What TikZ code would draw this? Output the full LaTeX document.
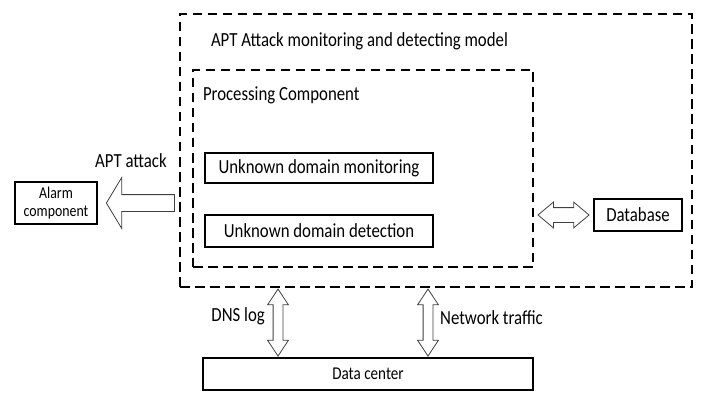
\documentclass[tikz,border=0pt]{standalone}
\usepackage{fontspec}
\setmainfont{Carlito}[FakeStretch=0.84]
\usepackage{tikz}
\usetikzlibrary{positioning, calc, shapes.arrows}

\begin{document}
\begin{tikzpicture}[x=1pt, y=-1pt, font=\fontsize{20}{24}\selectfont,
  every node/.style={inner sep=0pt},
  dashbox/.style={draw, line width=2.4pt, dash pattern=on 9.5pt off 5.5pt},
  solidbox/.style={draw, line width=2.2pt},
  hollow/.style={draw=black!75, line width=0.8pt, fill=white},
  leftarrow/.style={hollow, single arrow, shape border rotate=180, inner sep=8pt, single arrow head extend=17pt, single arrow tip angle=118, minimum height=68pt},
  hdouble/.style={hollow, double arrow, inner sep=7pt, double arrow head extend=5.5pt, double arrow tip angle=80, minimum height=51pt},
  vdouble/.style={hollow, double arrow, shape border rotate=90, inner sep=4.5pt, double arrow head extend=5.5pt, double arrow tip angle=67, minimum height=67pt}]
\useasboundingbox (0,0) rectangle (701,393);
\node[dashbox, minimum width=512pt, minimum height=273pt] (model) at (436,150.5) {};
\node[dashbox, minimum width=340pt, minimum height=197pt] (proc) at (363,168.5) {};
\node[anchor=west] (modeltitle) at ($(model.north west)+(32,28)$) {APT Attack monitoring and detecting model};
\node[anchor=west] (proctitle) at ($(proc.north west)+(11,27)$) {Processing Component};
\node[solidbox, minimum width=228pt, minimum height=30pt] (monitor) at (319,168) {Unknown domain monitoring};
\node[solidbox, minimum width=228pt, minimum height=32pt] (detect) at (319,231) {Unknown domain detection};
\node[solidbox, minimum width=88pt, minimum height=32pt] (db) at (638,215) {Database};
\node[solidbox, minimum width=82pt, minimum height=42pt, align=center, font=\fontsize{16.5}{18}\selectfont] (alarm) at (56,203) {Alarm\\component};
\node[solidbox, minimum width=330pt, minimum height=32pt, font=\fontsize{18}{20}\selectfont] (dc) at (368,374) {Data center};
\node[leftarrow, anchor=tail] (attack) at ($(model.west |- alarm.east)+(-4,0)$) {};
\node[anchor=south] (attacklabel) at ($(attack.center)+(-12,-35)$) {APT attack};
\node[hdouble] (dbarrow) at ($(proc.east |- db.west)!0.5!(db.west)$) {};
\coordinate (dnsx) at (278,0);
\coordinate (netx) at (428,0);
\node[vdouble] (dnsarrow) at ($(model.south -| dnsx)!0.5!(dc.north -| dnsx)$) {};
\node[vdouble] (netarrow) at ($(model.south -| netx)!0.5!(dc.north -| netx)$) {};
\node[anchor=east] (dnslabel) at ($(dnsarrow.center)+(-13,-6)$) {DNS log};
\node[anchor=west] (netlabel) at ($(netarrow.center)+(12,-5)$) {Network traffic};
\end{tikzpicture}
\end{document}
